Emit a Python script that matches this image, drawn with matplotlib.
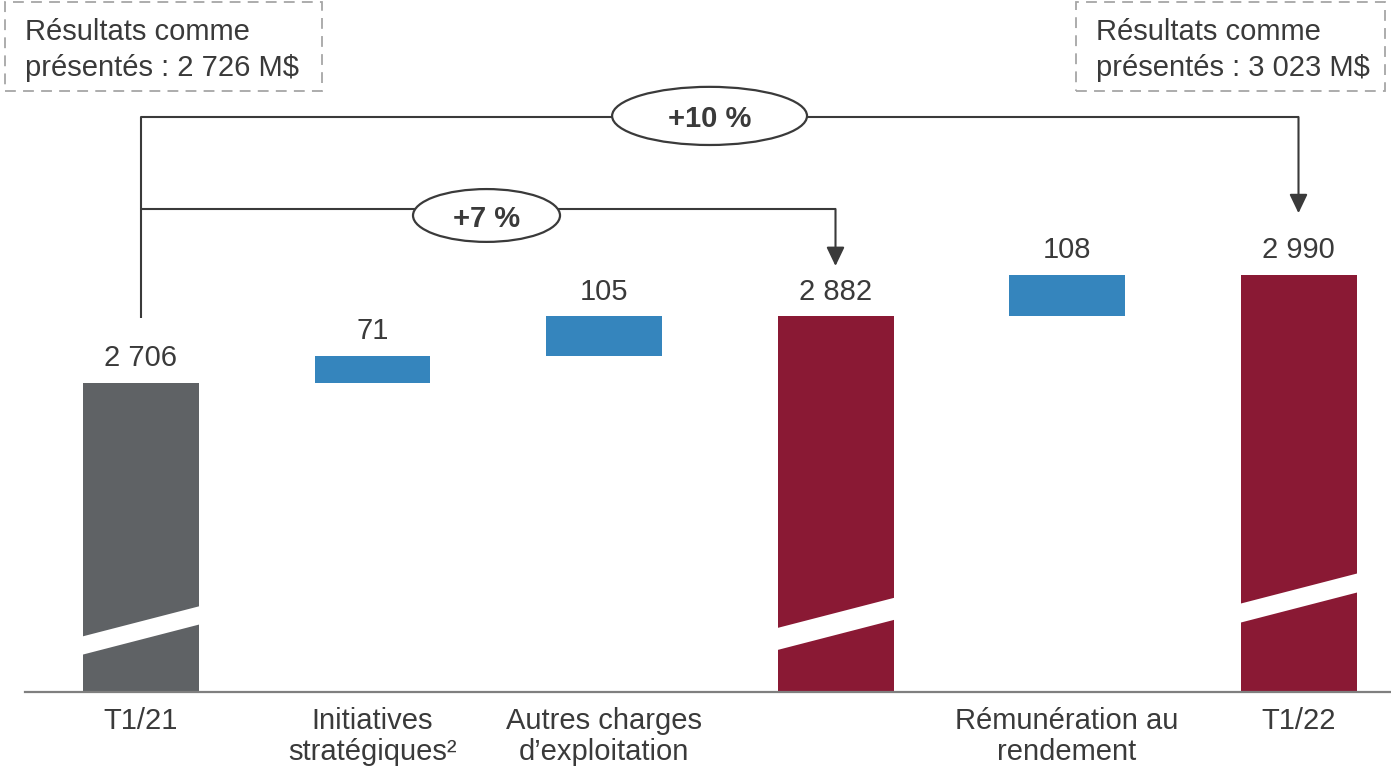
import matplotlib.pyplot as plt
from matplotlib.patches import Polygon, Ellipse, Rectangle

plt.rcParams['font.family'] = ['Liberation Sans', 'DejaVu Sans']

# ---- data ----
categories = ["T1/21", "Initiatives\nstratégiques\u00b2", "Autres charges\nd\u2019exploitation",
              "", "Rémunération au\nrendement", "T1/22"]
values = [2706, 71, 105, 2882, 108, 2990]
kinds = ["start", "delta", "delta", "total", "delta", "total"]
growth_labels = ["+7 %", "+10 %"]
reported_labels = ["Résultats comme\nprésentés : 2 726 M$",
                   "Résultats comme\nprésentés : 3 023 M$"]

GREY = "#5f6265"
RED = "#8a1934"
BLUE = "#3585bd"
TXT = "#3a3a3a"
LINE = "#3a3a3a"
FS = 21

W, H = 1391, 771
fig = plt.figure(figsize=(W / 100, H / 100), dpi=100)
ax = fig.add_axes([25 / W, 79 / H, 1366 / W, 692 / H])

PX_PER_UNIT = 0.38
Y0 = 1893
ax.set_ylim(Y0, Y0 + 692 / PX_PER_UNIT)
step = 231.5
ax.set_xlim((25 - 141) / step, (1391 - 141) / step)
bw = 116 / step

# ---- bars ----
running = 0
tops = []
for i, (v, k) in enumerate(zip(values, kinds)):
    if k == "delta":
        ax.bar(i, v, bottom=running, width=bw, color=BLUE, zorder=2)
        running += v
    else:
        ax.bar(i, v, width=bw, color=GREY if k == "start" else RED, zorder=2)
        running = v
    tops.append(running)
    ax.annotate(f"{v:,}".replace(",", " "), (i, running), xytext=(0, 12),
                textcoords="offset points", ha="center", va="baseline",
                fontsize=FS, color=TXT)

# axis-break bands on the full-height bars
breaks = {0: (2055, 48), 3: (2072, 58), 5: (2140, 50)}
slant = 82
for i, (c, t) in breaks.items():
    x0, x1 = i - bw / 2 - 0.01, i + bw / 2 + 0.01
    ax.add_patch(Polygon([(x0, c - slant / 2 - t / 2), (x1, c + slant / 2 - t / 2),
                          (x1, c + slant / 2 + t / 2), (x0, c - slant / 2 + t / 2)],
                         closed=True, facecolor="white", edgecolor="none", zorder=3))

# ---- axes styling ----
for s in ["top", "right", "left"]:
    ax.spines[s].set_visible(False)
ax.spines["bottom"].set_color("#7f7f7f")
ax.spines["bottom"].set_linewidth(1.6)
ax.spines["bottom"].set_zorder(4)
ax.set_yticks([])
ax.set_xticks(range(len(categories)))
ax.set_xticklabels(categories, fontsize=FS, color=TXT, linespacing=1.14)
ax.tick_params(axis="x", length=0, pad=11)

# ---- growth brackets ----
y_start = 2877
y7, y10 = 3164, 3406
ax.plot([0, 0, 3], [y_start, y7, y7], color=LINE, lw=1.5, zorder=1, solid_capstyle="butt")
ax.plot([0, 0, 5], [y7, y10, y10], color=LINE, lw=1.5, zorder=1, solid_capstyle="butt")
arrow = dict(arrowstyle="-|>,head_length=1.15,head_width=0.55", color=LINE, lw=1.5,
             shrinkA=0, shrinkB=0)
ax.annotate("", xy=(3, tops[3] + 132), xytext=(3, y7), arrowprops=arrow)
ax.annotate("", xy=(5, tops[5] + 163), xytext=(5, y10), arrowprops=arrow)

for (cx, cy, ew, eh), lab in zip([(1.4925, 3147, 0.635, 139), (2.456, 3409, 0.842, 153)],
                                 growth_labels):
    ax.add_patch(Ellipse((cx, cy), ew, eh, facecolor="white", edgecolor=LINE,
                         lw=1.6, zorder=5))
    ax.text(cx, cy - 8, lab, ha="center", va="center", fontsize=FS,
            fontweight="bold", color=TXT, zorder=6)

# ---- reported results boxes ----
for (bx, bw_px), lab in zip([(5, 317), (1076, 309)], reported_labels):
    fig.add_artist(Rectangle((bx / W, 1 - 91 / H), bw_px / W, 89 / H,
                             transform=fig.transFigure, fill=False,
                             edgecolor="#a6a6a6", lw=1.3, linestyle=(0, (6, 4))))
    fig.text((bx + 20) / W, 1 - 50 / H, lab, ha="left", va="center",
             fontsize=FS, color=TXT, linespacing=1.36)

fig.savefig("out.png", dpi=100)
